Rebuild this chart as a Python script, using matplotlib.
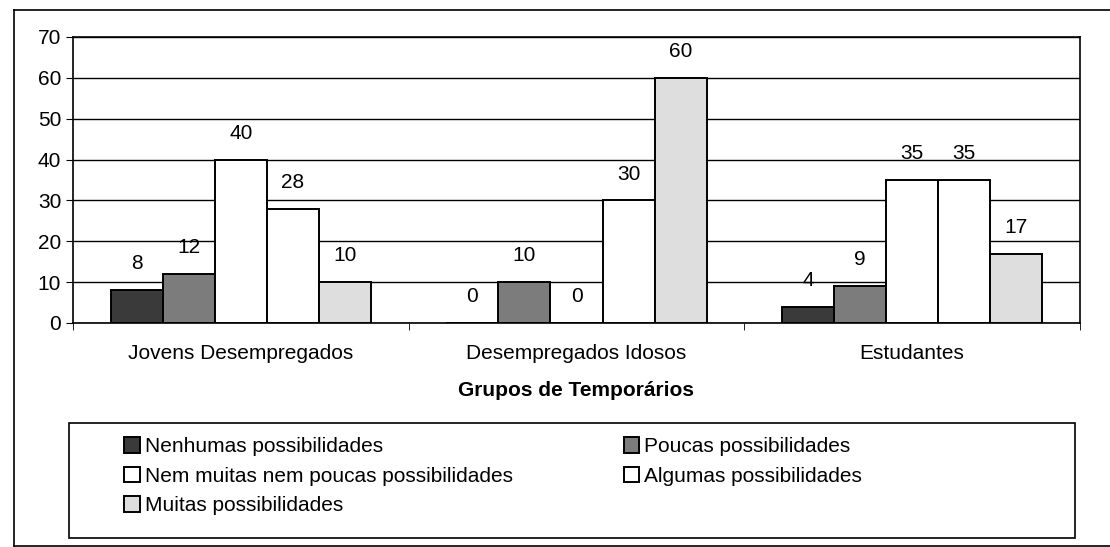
import numpy as np
import matplotlib.pyplot as plt
from matplotlib.lines import Line2D

plt.rcParams['font.family'] = ['Liberation Sans', 'DejaVu Sans']

# Data
groups = ['Jovens Desempregados', 'Desempregados Idosos', 'Estudantes']
series = ['Nenhumas possibilidades', 'Poucas possibilidades',
          'Nem muitas nem poucas possibilidades', 'Algumas possibilidades',
          'Muitas possibilidades']
nenhumas = [8, 0, 4]
poucas = [12, 10, 9]
nem_muitas = [40, 0, 35]
algumas = [28, 30, 35]
muitas = [10, 60, 17]
values = [nenhumas, poucas, nem_muitas, algumas, muitas]
colors = ['#3a3a3a', '#7c7c7c', '#ffffff', '#ffffff', '#dedede']

fig = plt.figure(figsize=(11.1, 5.47), dpi=100)
ax = fig.add_axes([73 / 1110, 1 - 323 / 547, (1080 - 73) / 1110, (323 - 37) / 547])

x = np.arange(len(groups))
w = 0.155
bars = []
for i, (vals, c) in enumerate(zip(values, colors)):
    pos = x + (i - 2) * w
    b = ax.bar(pos, vals, w, color=c, edgecolor='black', linewidth=1.4,
               label=series[i], zorder=3)
    bars.append(b)
    for px, v in zip(pos, vals):
        ax.annotate(str(v), (px, v), xytext=(0, 19), textcoords='offset points',
                    ha='center', va='center', fontsize=15)

ax.set_xlim(-0.5, 2.5)
ax.set_ylim(0, 70)
ax.set_yticks(range(0, 71, 10))
ax.yaxis.grid(True, color='black', linewidth=1.0, zorder=0)
ax.set_xticks(x)
ax.set_xticklabels(groups, fontsize=15)
ax.set_xticks([-0.5, 0.5, 1.5, 2.5], minor=True)
ax.tick_params(axis='x', which='major', length=0, pad=15)
ax.tick_params(axis='x', which='minor', length=5, direction='out')
ax.tick_params(axis='y', labelsize=15, length=5, direction='out')
for s in ['top', 'right', 'left', 'bottom']:
    ax.spines[s].set_linewidth(1.2)
ax.set_xlabel('Grupos de Temporários', fontsize=15, fontweight='bold', labelpad=13)

# legend ordered to fill rows like the original (2 columns)
order = [0, 2, 4, 1, 3]
handles = [bars[i] for i in order]
labels = [series[i] for i in order]
leg = fig.legend(handles, labels, ncol=2, loc='upper left',
                 bbox_to_anchor=(116 / 1110, 1 - 429 / 547),
                 frameon=False, fontsize=15, handlelength=0.75, handleheight=0.75,
                 handletextpad=0.25, columnspacing=5.3, labelspacing=0.5,
                 borderaxespad=0)

# legend box and outer chart frame
fig.patches.append(plt.Rectangle((69 / 1110, 1 - 538 / 547), (1075 - 69) / 1110,
                                 (538 - 423) / 547, transform=fig.transFigure,
                                 fill=False, edgecolor='black', linewidth=1.2))
fig.add_artist(Line2D([14 / 1110, 14 / 1110], [1 - 546 / 547, 1 - 10 / 547],
                      color='black', linewidth=1.2, transform=fig.transFigure))
fig.add_artist(Line2D([14 / 1110, 1], [1 - 10 / 547, 1 - 10 / 547],
                      color='black', linewidth=1.2, transform=fig.transFigure))
fig.add_artist(Line2D([14 / 1110, 1], [1 - 546 / 547, 1 - 546 / 547],
                      color='black', linewidth=1.2, transform=fig.transFigure))

fig.savefig('out.png', dpi=100)
